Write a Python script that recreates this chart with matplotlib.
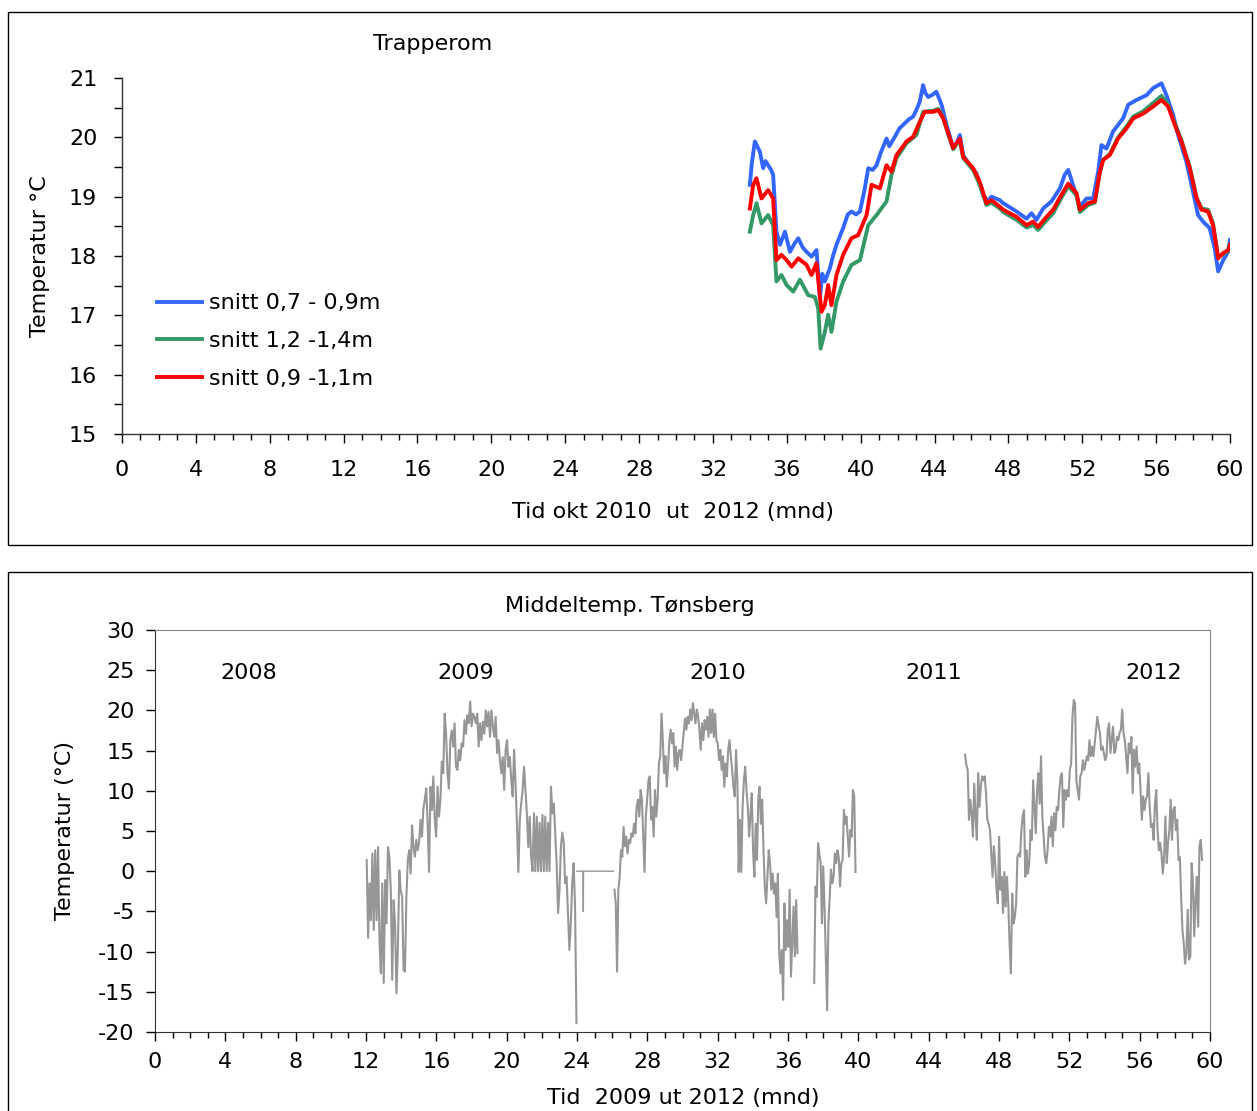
import numpy as np
import matplotlib
matplotlib.use("Agg")
import matplotlib.pyplot as plt
from matplotlib.patches import Rectangle
from matplotlib.ticker import MultipleLocator

W, H = 1257, 1111

# ---- top chart: Trapperom (months, degC) ----
blue_month = [34.0, 34.1, 34.27, 34.4, 34.54, 34.72, 34.85, 34.99, 35.15, 35.26, 35.44, 35.63, 35.9,
              36.17, 36.4, 36.62, 36.85, 37.07, 37.34, 37.61, 37.79, 37.92, 38.06, 38.33, 38.5, 38.69,
              39.05, 39.3, 39.5, 39.75, 39.96, 40.2, 40.41, 40.65, 40.86, 41.1, 41.4, 41.55, 41.85,
              42.1, 42.3, 42.6, 42.84, 43.0, 43.2, 43.38, 43.5, 43.66, 43.9, 44.1, 44.38, 44.65, 45.01,
              45.2, 45.37, 45.55, 45.91, 46.27, 46.63, 46.9, 47.08, 47.54, 47.72, 48.44, 48.98, 49.25,
              49.52, 49.88, 50.33, 50.79, 51.05, 51.24, 51.5, 51.87, 52.23, 52.59, 52.86, 53.04, 53.31,
              53.67, 54.21, 54.49, 54.94, 55.48, 55.84, 56.29, 56.56, 56.92, 57.19, 57.64, 58.0, 58.27,
              58.54, 58.9, 59.17, 59.36, 59.63, 59.9, 60.0]
blue_temp = [19.20, 19.55, 19.93, 19.85, 19.76, 19.48, 19.60, 19.53, 19.45, 19.37, 18.41, 18.19, 18.41,
             18.07, 18.20, 18.30, 18.15, 18.07, 17.99, 18.10, 17.29, 17.70, 17.57, 17.79, 18.00, 18.19,
             18.47, 18.70, 18.75, 18.70, 18.75, 19.10, 19.48, 19.45, 19.53, 19.75, 19.98, 19.85, 20.01,
             20.15, 20.21, 20.30, 20.35, 20.45, 20.60, 20.88, 20.75, 20.68, 20.72, 20.77, 20.55, 20.21,
             19.82, 19.90, 20.04, 19.70, 19.53, 19.39, 19.03, 18.92, 19.00, 18.94, 18.89, 18.75, 18.63,
             18.72, 18.61, 18.80, 18.92, 19.14, 19.37, 19.45, 19.20, 18.83, 18.97, 18.97, 19.42, 19.87,
             19.81, 20.10, 20.32, 20.55, 20.63, 20.71, 20.83, 20.91, 20.71, 20.38, 20.04, 19.59, 19.08,
             18.69, 18.58, 18.47, 18.13, 17.74, 17.93, 18.07, 18.27]

red_month = [34.0, 34.18, 34.36, 34.63, 34.99, 35.26, 35.44, 35.71, 35.99, 36.26, 36.62, 37.07, 37.34,
             37.61, 37.88, 38.06, 38.24, 38.42, 38.69, 39.05, 39.5, 39.86, 40.32, 40.59, 41.04, 41.4,
             41.67, 41.94, 42.48, 42.84, 43.2, 43.47, 43.93, 44.2, 44.47, 44.74, 45.01, 45.37, 45.55,
             46.09, 46.45, 46.81, 47.08, 47.54, 47.72, 48.44, 48.98, 49.34, 49.61, 50.06, 50.42, 50.87,
             51.24, 51.69, 51.87, 52.32, 52.68, 52.95, 53.13, 53.49, 53.94, 54.39, 54.76, 55.3, 55.84,
             56.29, 56.65, 57.01, 57.37, 57.82, 58.19, 58.46, 58.81, 59.08, 59.36, 59.63, 59.9, 60.0]
red_temp = [18.80, 19.20, 19.31, 18.97, 19.11, 18.97, 17.93, 18.02, 17.93, 17.82, 17.96, 17.85, 17.68,
            17.88, 17.06, 17.17, 17.51, 17.17, 17.68, 18.02, 18.30, 18.35, 18.69, 19.20, 19.14, 19.53,
            19.42, 19.70, 19.93, 20.01, 20.26, 20.43, 20.43, 20.46, 20.32, 20.07, 19.82, 19.98, 19.67,
            19.48, 19.25, 18.89, 18.94, 18.83, 18.78, 18.66, 18.52, 18.58, 18.49, 18.66, 18.78, 19.03,
            19.22, 19.06, 18.78, 18.89, 18.92, 19.42, 19.62, 19.70, 19.98, 20.15, 20.32, 20.40, 20.52,
            20.63, 20.52, 20.21, 19.93, 19.48, 18.97, 18.78, 18.75, 18.52, 17.96, 18.05, 18.10, 18.19]

green_month = [34.0, 34.18, 34.36, 34.63, 34.99, 35.26, 35.44, 35.71, 35.99, 36.35, 36.71, 37.16, 37.52,
               37.7, 37.83, 38.06, 38.24, 38.42, 38.69, 39.05, 39.5, 39.96, 40.41, 40.86, 41.4, 41.67,
               41.94, 42.48, 43.02, 43.38, 43.93, 44.2, 44.47, 44.74, 45.01, 45.37, 45.55, 46.09, 46.45,
               46.81, 47.08, 47.54, 47.72, 48.44, 48.98, 49.34, 49.61, 50.06, 50.42, 50.87, 51.24, 51.69,
               51.87, 52.32, 52.68, 52.95, 53.13, 53.49, 53.94, 54.39, 54.76, 55.3, 55.84, 56.29, 56.65,
               57.01, 57.37, 57.82, 58.19, 58.46, 58.81, 59.08, 59.36, 59.63, 59.9, 60.0]
green_temp = [18.41, 18.69, 18.89, 18.55, 18.69, 18.52, 17.57, 17.68, 17.51, 17.40, 17.60, 17.34, 17.31,
              17.12, 16.44, 16.72, 17.01, 16.72, 17.23, 17.57, 17.85, 17.93, 18.52, 18.69, 18.92, 19.37,
              19.65, 19.90, 20.04, 20.43, 20.45, 20.48, 20.34, 20.05, 19.80, 19.96, 19.65, 19.45, 19.20,
              18.86, 18.90, 18.80, 18.74, 18.61, 18.48, 18.52, 18.44, 18.60, 18.72, 18.98, 19.18, 19.02,
              18.74, 18.86, 18.90, 19.40, 19.62, 19.72, 20.00, 20.18, 20.35, 20.44, 20.58, 20.70, 20.55,
              20.24, 19.95, 19.50, 18.99, 18.80, 18.78, 18.55, 17.98, 18.03, 18.08, 18.17]

legend_labels = ["snitt 0,7 - 0,9m", "snitt 1,2 -1,4m", "snitt 0,9 -1,1m"]

# ---- bottom chart: Middeltemp. Tønsberg, daily-ish readings per segment ----
seg1_range = (12.04, 23.97)
seg1_temp = [1.4, -8.3, -1.5, -6.1, 2.2, -7.3, 2.6, -6.1, 3.0, -8.6, -12.7, -1.5, -13.9, -1.1, -6.5, 3.0,
             1.8, -2.4, -13.5, -3.6, -6.5, -15.2, -9.5, 0.1, -2.4, -3.2, -12.3, -12.5, -3.2, 1.4, 2.6,
             -0.3, 5.7, 3.0, 1.8, 3.9, 2.6, 3.7, 6.4, 4.3, 7.8, 8.9, 10.3, 6.0, -0.1, 10.5, 7.6, 11.8,
             6.4, 4.3, 10.5, 6.8, 8.9, 13.6, 12.2, 19.6, 17.1, 12.2, 10.3, 16.3, 17.5, 15.5, 18.4, 13.0,
             12.6, 15.1, 13.8, 15.9, 15.5, 18.8, 17.1, 19.4, 18.4, 21.1, 18.0, 19.6, 19.2, 18.4, 19.6,
             15.5, 18.4, 16.3, 18.6, 17.1, 20.0, 18.0, 19.8, 16.7, 20.0, 18.0, 16.7, 19.2, 14.7, 16.3,
             13.8, 12.2, 14.2, 10.1, 15.1, 16.3, 13.0, 14.2, 11.3, 9.3, 15.1, 10.9, 6.0, -0.1, 6.4, 8.4,
             10.1, 13.0, 10.1, 7.2, 3.0, 6.8, 1.8, 0.0, 7.2, 0.0, 6.8, 0.0, 6.0, 0.0, 7.0, 0.0, 6.8,
             0.0, 6.0, 0.0, 10.5, 7.2, 8.4, 4.8, 1.0, -5.2, -2.4, 3.0, 4.8, 3.6, -1.5, -0.7, -5.2, -9.8,
             -6.5, -1.5, 1.0, -4.4, -18.9]
gap_month = [23.99, 24.35, 24.36, 24.37, 26.07]
gap_temp = [0.0, 0.0, -5.0, 0.0, 0.0]

seg2_range = (26.13, 36.54)
seg2_temp = [-2.3, -4.0, -12.5, -2.3, -0.7, 2.6, 1.8, 5.5, 3.1, 4.3, 2.2, 3.9, 3.5, 4.7, 4.3, 5.9, 4.7,
             8.0, 8.9, 6.8, 10.1, 8.9, 4.3, -0.1, 6.8, 8.9, 11.3, 11.8, 6.4, 8.0, 4.3, 10.1, 6.8, 8.9,
             13.4, 14.3, 19.6, 16.3, 12.2, 14.3, 10.5, 13.0, 16.3, 17.6, 15.9, 17.2, 13.0, 15.5, 12.6,
             14.7, 15.1, 13.8, 15.5, 17.2, 19.0, 17.6, 19.2, 18.4, 20.1, 18.8, 20.9, 19.6, 18.4, 20.1,
             19.2, 17.6, 15.1, 18.4, 16.3, 18.8, 17.6, 19.2, 16.7, 20.1, 17.2, 20.1, 16.7, 19.6, 16.3,
             15.9, 13.8, 15.1, 12.6, 14.3, 10.5, 13.4, 11.8, 15.1, 16.3, 14.3, 12.6, 10.5, 9.3, 15.1,
             11.3, -0.1, 6.4, -0.1, 8.0, 11.3, 13.0, 10.1, 8.0, 4.3, 6.8, 9.7, 2.6, -0.7, 5.9, 1.4, 8.9,
             10.5, 5.9, 8.9, 2.6, -1.9, -4.0, -0.7, 2.6, 1.0, -2.3, -0.3, -2.8, -1.5, -5.7, -0.3,
             -10.2, -12.7, -9.8, -16.0, -4.0, -9.8, -6.1, -9.4, -2.3, -13.1, -8.6, -4.4, -10.6, -3.6,
             -10.2]

seg3_range = (37.49, 39.84)
seg3_temp = [-13.9, -1.9, -3.2, 3.5, 2.2, 1.0, -6.5, 0.6, -4.4, -10.6, -17.3, -6.5, -3.2, 0.2, -1.5,
             -0.7, 2.2, 1.0, 2.6, 1.8, -1.9, 1.0, 1.4, 7.6, 5.9, 6.8, 4.3, 1.8, 5.1, 4.3, 10.1, 9.3, -0.1]

seg4_range = (46.07, 59.55)
seg4_temp = [14.5, 13.2, 12.6, 6.4, 8.9, 7.2, 4.3, 10.9, 6.8, 3.9, 12.2, 8.0, 10.5, 11.8, 11.3, 11.8,
             9.7, 6.4, 5.9, 5.1, 2.2, -0.7, 3.1, 1.0, -2.3, -4.0, 4.3, -2.3, -0.7, -5.2, -0.1, -4.4,
             -0.7, -4.0, -9.0, -12.7, -2.8, -6.5, -5.7, -4.0, 1.8, 2.2, 1.8, 5.1, 6.8, 7.6, -0.7, 2.6,
             -0.3, 1.0, 5.1, 3.9, 11.3, 8.0, 4.7, 10.1, 12.2, 8.4, 14.3, 6.8, 4.3, 1.8, 1.0, 2.6, 5.5,
             4.3, 6.8, 3.1, 7.2, 5.1, 8.0, 7.6, 10.1, 11.8, 12.2, 5.5, 10.1, 8.9, 10.1, 9.3, 12.6, 13.4,
             19.2, 21.3, 20.9, 11.3, 10.1, 8.9, 11.8, 12.2, 13.8, 12.6, 13.4, 14.3, 13.8, 16.3, 14.3,
             15.5, 14.3, 15.9, 17.6, 19.2, 18.0, 17.2, 15.1, 15.5, 14.7, 13.8, 14.3, 17.6, 18.4, 14.7,
             16.3, 18.0, 14.7, 15.1, 16.7, 16.3, 17.2, 17.6, 20.1, 17.2, 16.3, 14.3, 12.2, 15.9, 14.7,
             16.7, 9.7, 15.1, 13.0, 15.5, 12.2, 13.4, 10.1, 6.4, 9.3, 7.6, 8.9, 9.3, 12.2, 8.0, 5.5,
             5.9, 3.9, 8.4, 10.1, 5.1, 2.6, 3.5, 2.2, -0.3, 1.8, 6.8, 1.0, 3.5, 5.1, 8.9, 3.9, 7.6,
             8.0, 5.1, 6.4, 1.4, 1.8, -3.2, -7.3, -9.0, -11.5, -10.2, -4.8, -11.0, -10.6, 1.0, -1.5,
             -8.1, -3.6, -0.7, -6.9, 3.1, 3.9, 1.4]

year_labels = ["2008", "2009", "2010", "2011", "2012"]
year_month = [5.35, 17.66, 32.02, 44.31, 56.77]
year_temp = 24.65

plt.rcParams['font.family'] = ['DejaVu Sans']
plt.rcParams['axes.unicode_minus'] = False
FS = 16

fig = plt.figure(figsize=(W / 100, H / 100), dpi=100)


def fx(px):
    return px / W


def fy(py):
    return 1 - py / H


# outer frames around each chart
fig.add_artist(Rectangle((fx(8), fy(545)), fx(1252) - fx(8), fy(12) - fy(545),
                         transform=fig.transFigure, fill=False, ec='black', lw=1.0))
fig.add_artist(Rectangle((fx(8), fy(1115)), fx(1252) - fx(8), fy(572) - fy(1115),
                         transform=fig.transFigure, fill=False, ec='black', lw=1.0))

# ---------------- top chart ----------------
ax1 = fig.add_axes([fx(122), fy(434), fx(1230) - fx(122), fy(78) - fy(434)])
ax1.plot(blue_month, blue_temp, color='#3366FF', lw=2.8, label=legend_labels[0])
ax1.plot(green_month, green_temp, color='#339966', lw=2.8, label=legend_labels[1])
ax1.plot(red_month, red_temp, color='#FF0000', lw=2.8, label=legend_labels[2])
ax1.set_xlim(0, 60)
ax1.set_ylim(15, 21)
ax1.xaxis.set_major_locator(MultipleLocator(4))
ax1.xaxis.set_minor_locator(MultipleLocator(1))
ax1.yaxis.set_major_locator(MultipleLocator(1))
ax1.yaxis.set_minor_locator(MultipleLocator(0.5))
for s in ['top', 'right']:
    ax1.spines[s].set_visible(False)
for s in ['left', 'bottom']:
    ax1.spines[s].set_color('#333333')
    ax1.spines[s].set_linewidth(1.0)
ax1.tick_params(axis='x', which='major', length=6.5, width=1, direction='out', pad=12, labelsize=FS)
ax1.tick_params(axis='x', which='minor', length=4.3, width=1, direction='out')
ax1.tick_params(axis='y', which='both', length=5.8, width=1, direction='out', pad=12, labelsize=FS)
ax1.legend(loc='center left', bbox_to_anchor=(0.032, 0.261), frameon=False, fontsize=FS,
           handlelength=2.0, handletextpad=0.3, labelspacing=0.8, borderpad=0, borderaxespad=0)

fig.text(fx(433), fy(44), "Trapperom", ha='center', va='center', fontsize=FS)
fig.text(fx(40), fy(256), "Temperatur °C", ha='center', va='center', rotation=90, fontsize=FS)
fig.text(fx(673), fy(512), "Tid okt 2010  ut  2012 (mnd)", ha='center', va='center', fontsize=FS)

# ---------------- bottom chart ----------------
ax2 = fig.add_axes([fx(155), fy(1032), fx(1210) - fx(155), fy(630) - fy(1032)])
for rng, temps in [(seg1_range, seg1_temp), (seg2_range, seg2_temp),
                   (seg3_range, seg3_temp), (seg4_range, seg4_temp)]:
    months = np.linspace(rng[0], rng[1], len(temps))
    ax2.plot(months, temps, color='#969696', lw=1.5)
ax2.plot(gap_month, gap_temp, color='#969696', lw=1.0)
for lab, m in zip(year_labels, year_month):
    ax2.text(m, year_temp, lab, ha='center', va='center', fontsize=FS)
ax2.set_xlim(0, 60)
ax2.set_ylim(-20, 30)
ax2.xaxis.set_major_locator(MultipleLocator(4))
ax2.xaxis.set_minor_locator(MultipleLocator(1))
ax2.yaxis.set_major_locator(MultipleLocator(5))
for s in ['top', 'right']:
    ax2.spines[s].set_color('#888888')
for s in ['left', 'bottom']:
    ax2.spines[s].set_color('#333333')
ax2.tick_params(axis='x', which='major', length=6.5, width=1, direction='out', pad=8, labelsize=FS)
ax2.tick_params(axis='x', which='minor', length=4.3, width=1, direction='out')
ax2.tick_params(axis='y', which='major', length=6.5, width=1, direction='out', pad=8, labelsize=FS)

fig.text(fx(630), fy(606), "Middeltemp. Tønsberg", ha='center', va='center', fontsize=FS)
fig.text(fx(65), fy(830), "Temperatur (°C)", ha='center', va='center', rotation=90, fontsize=FS)
fig.text(fx(683), fy(1098), "Tid  2009 ut 2012 (mnd)", ha='center', va='center', fontsize=FS)

fig.savefig("out.png", dpi=100)
